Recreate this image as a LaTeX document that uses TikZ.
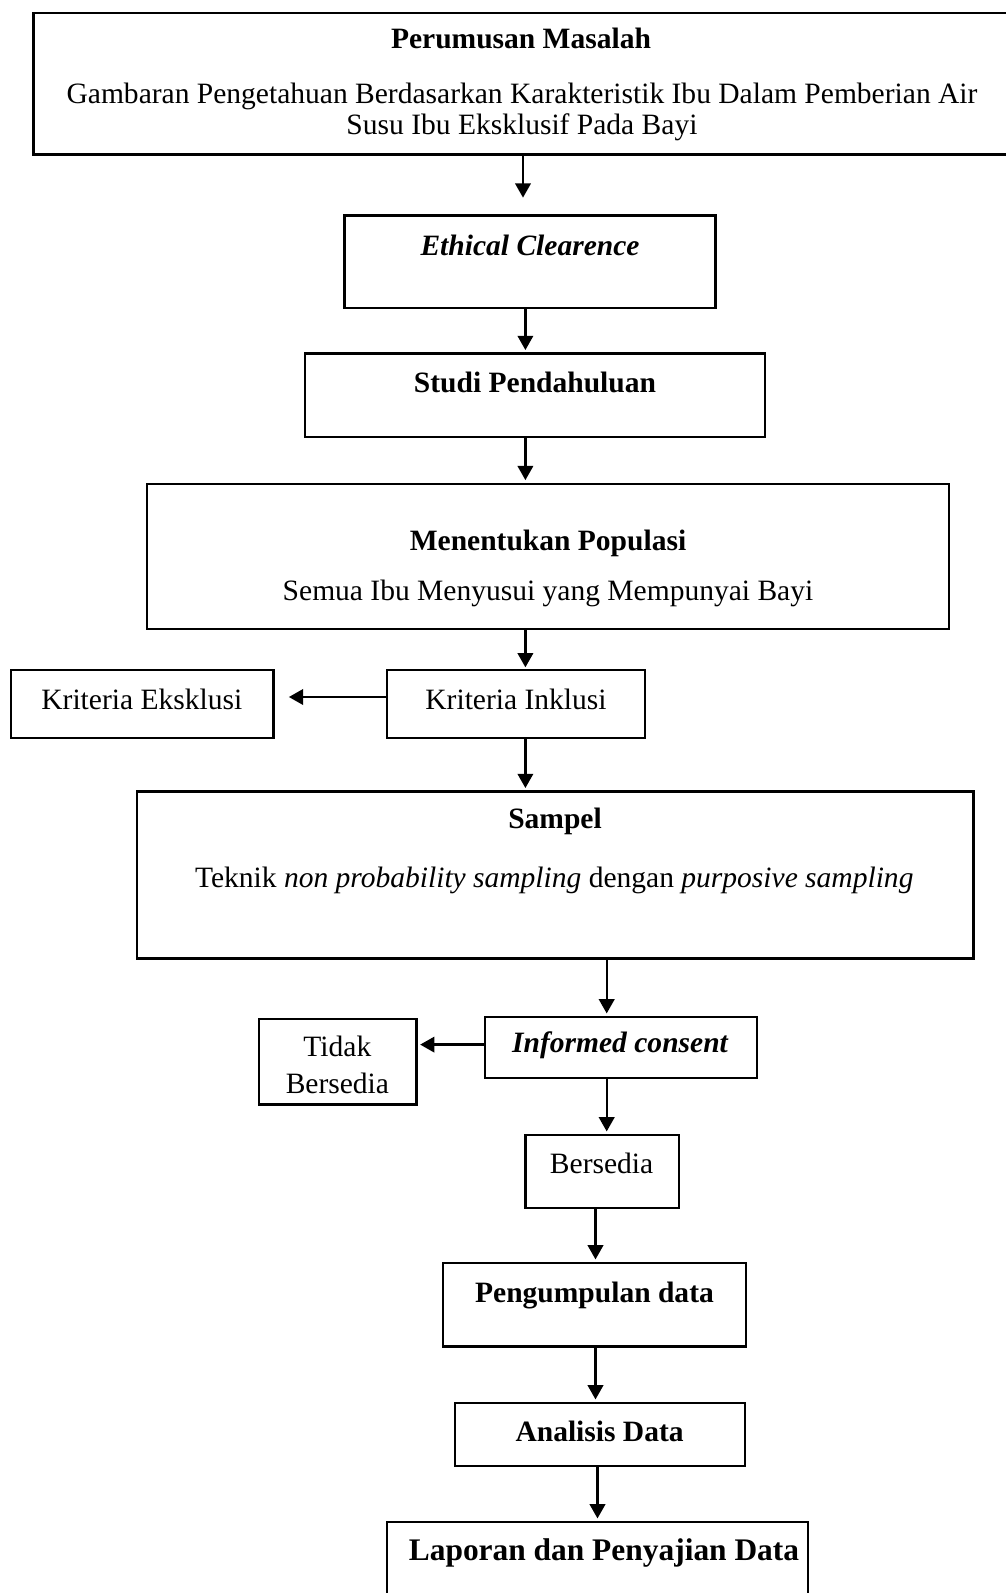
\documentclass[12pt,tikz,border=0pt]{standalone}
\usepackage{fontspec}
\setmainfont{Liberation Serif}
\usepackage{tikz}
\usetikzlibrary{arrows.meta,fit}
\tikzstyle{kotak} = [draw, line width=1pt, inner sep=0pt]
\tikzstyle{es} = [-{Triangle[length=6pt,width=6.5pt]}, line width=1pt]
\tikzstyle{isi} = [align=center, inner sep=0pt, font=\fontsize{12.4pt}{13.3pt}\selectfont]
\tikzstyle{judul} = [isi, font=\fontsize{12.4pt}{13.3pt}\selectfont\bfseries]

\begin{document}
\begin{tikzpicture}[x=0.42pt,y=-0.42pt]
			\useasboundingbox (0,0) rectangle (1006,1593);
			\node[kotak, fit={(33.5,13) (1012,154.5)}] (rumusan) {};
			\node[judul] (rumusanJudul) at (521,38.6) {Perumusan Masalah};
			\node[isi] (rumusanIsi) at (522,112) {Gambaran Pengetahuan Berdasarkan Karakteristik Ibu Dalam Pemberian Air\\ Susu Ibu Eksklusif Pada Bayi};
			\node[kotak, fit={(344.5,215.5) (715.4,308)}] (etik) {};
			\node[judul] (etikJudul) at (530,245) {\textit{Ethical Clearence}};
			\node[kotak, fit={(305,353.6) (765,437)}] (studi) {};
			\node[judul] (studiJudul) at (535,382) {Studi Pendahuluan};
			\node[kotak, fit={(147.3,483.7) (949,629)}] (populasi) {};
			\node[judul] (populasiJudul) at (548,543.6) {Menentukan Populasi};
			\node[isi] (populasiIsi) at (548,593.4) {Semua Ibu Menyusui yang Mempunyai Bayi};
			\node[kotak, fit={(387,669.7) (645,737.8)}] (inklusi) {};
			\node[isi] (inklusiTeks) at (516,699) {Kriteria Inklusi};
			\node[kotak, fit={(11.2,669.7) (273.4,737.8)}] (eksklusi) {};
			\node[isi] (eksklusiTeks) at (141.8,699) {Kriteria Eksklusi};
			\node[kotak, fit={(137.2,791.6) (973.5,958.3)}] (sampel) {};
			\node[judul] (sampelJudul) at (555,821) {Sampel};
			\node[isi] (sampelIsi) at (554.3,880) {Teknik \textit{non probability sampling} dengan \textit{purposive sampling}};
			\node[kotak, fit={(484.7,1017) (757,1078)}] (informed) {};
			\node[judul] (informedTeks) at (620.4,1045.7) {\textit{Informed consent}};
			\node[kotak, fit={(259,1019) (416.6,1104.6)}] (tidak) {};
			\node[isi] (tidakTeks) at (337.4,1065) {Tidak\\[2pt] Bersedia};
			\node[kotak, fit={(525.4,1135) (678.8,1208)}] (bersedia) {};
			\node[isi] (bersediaTeks) at (601.6,1163.5) {Bersedia};
			\node[kotak, fit={(443,1263) (746,1346.5)}] (kumpul) {};
			\node[judul] (kumpulJudul) at (594.5,1295.6) {Pengumpulan data};
			\node[kotak, fit={(455,1403) (745,1466)}] (analisis) {};
			\node[judul] (analisisJudul) at (599.6,1431) {Analisis Data};
			\node[kotak, fit={(387,1522) (808,1605)}] (laporan) {};
			\node[judul, font=\fontsize{13.2pt}{14pt}\selectfont\bfseries] (laporanJudul) at (604,1553) {Laporan dan Penyajian Data};
			\draw[es, shorten >=7pt] (rumusan.south -| 523,0) -- (etik.north -| 523,0);
			\draw[es, shorten >=1pt] (etik.south -| 525.4,0) -- (studi.north -| 525.4,0);
			\draw[es, shorten >=1pt] (studi.south -| 525.4,0) -- (populasi.north -| 525.4,0);
			\draw[es, shorten >=0.5pt] (populasi.south -| 525.4,0) -- (inklusi.north -| 525.4,0);
			\draw[es, shorten >=6pt] (inklusi.west |- 0,697) -- (eksklusi.east |- 0,697);
			\draw[es, shorten >=1pt] (inklusi.south -| 525.4,0) -- (sampel.north -| 525.4,0);
			\draw[es, shorten >=1pt] (sampel.south -| 606.7,0) -- (informed.north -| 606.7,0);
			\draw[es, shorten >=1pt] (informed.west |- 0,1044.6) -- (tidak.east |- 0,1044.6);
			\draw[es, shorten >=1pt] (informed.south -| 606.7,0) -- (bersedia.north -| 606.7,0);
			\draw[es, shorten >=1pt] (bersedia.south -| 595.5,0) -- (kumpul.north -| 595.5,0);
			\draw[es, shorten >=1pt] (kumpul.south -| 595.5,0) -- (analisis.north -| 595.5,0);
			\draw[es, shorten >=1pt] (analisis.south -| 597.5,0) -- (laporan.north -| 597.5,0);
		\end{tikzpicture}
\end{document}
